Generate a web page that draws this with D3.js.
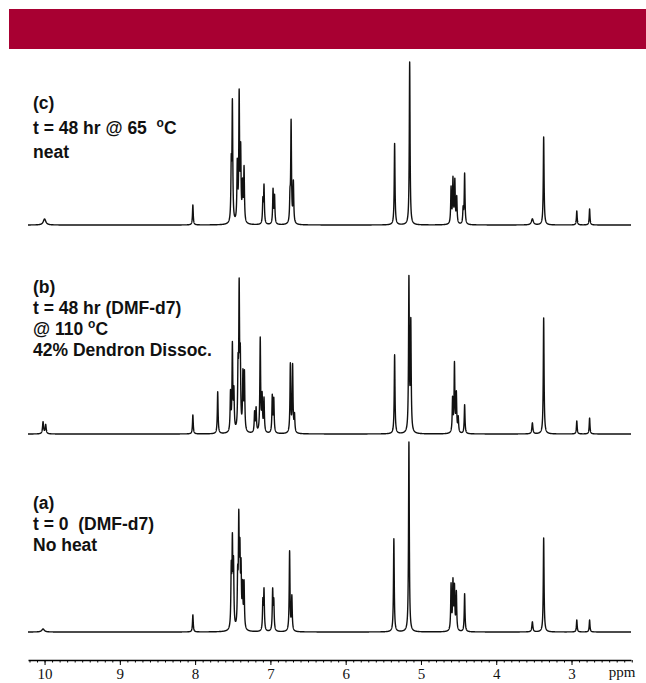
<!DOCTYPE html>
<html>
<head>
<meta charset="utf-8">
<script src="https://cdn.jsdelivr.net/npm/d3@7"></script>
<style>
  body { margin: 0; background: #fff; }
  svg { display: block; }
</style>
</head>
<body>
<svg id="chart"></svg>
<script>
// peak lists: [ppm, intensity (% of tallest), half-width ppm]
const peaksC = [
  [10.00, 3.7, 0.02], [8.03, 12.3, 0.006],
  [7.52, 33, 0.006], [7.505, 72, 0.006], [7.44, 35, 0.006], [7.415, 77, 0.006],
  [7.395, 42, 0.006], [7.37, 22, 0.006], [7.35, 33, 0.006],
  [7.10, 14, 0.006], [7.085, 23, 0.006], [6.965, 21, 0.006], [6.945, 17, 0.006],
  [6.74, 14, 0.006], [6.725, 62, 0.006], [6.695, 25, 0.006],
  [5.35, 50, 0.006], [5.15, 100, 0.006],
  [4.60, 22, 0.006], [4.575, 27, 0.006], [4.55, 26, 0.006], [4.525, 16, 0.006],
  [4.44, 9, 0.006], [4.42, 31, 0.006],
  [3.52, 3.7, 0.015], [3.37, 54, 0.006], [2.93, 8.6, 0.006], [2.76, 9.8, 0.006]
];
const peaksB = [
  [10.02, 7.5, 0.008], [9.985, 5.7, 0.008], [8.03, 12, 0.006], [7.70, 26.4, 0.006],
  [7.53, 24, 0.006], [7.505, 54, 0.006], [7.485, 24, 0.006],
  [7.43, 36, 0.006], [7.415, 86, 0.006], [7.40, 42, 0.006],
  [7.365, 35, 0.006], [7.345, 36, 0.006],
  [7.21, 12.6, 0.006], [7.19, 15, 0.006], [7.135, 59, 0.006], [7.11, 22, 0.006],
  [7.085, 21, 0.006], [6.975, 23, 0.006], [6.955, 21, 0.006],
  [6.735, 43, 0.006], [6.705, 42, 0.006], [6.68, 10.7, 0.006],
  [5.35, 49.7, 0.006], [5.16, 96, 0.006], [5.135, 68, 0.006],
  [4.58, 21, 0.006], [4.555, 43, 0.006], [4.53, 24, 0.006], [4.505, 9.4, 0.006],
  [4.42, 18.2, 0.006],
  [3.52, 6.9, 0.008], [3.37, 73, 0.006], [2.93, 8.2, 0.006], [2.76, 10, 0.006]
];
const peaksA = [
  [10.02, 1.6, 0.02], [8.03, 9, 0.006],
  [7.52, 30, 0.006], [7.505, 43, 0.006], [7.49, 32, 0.006],
  [7.435, 25, 0.006], [7.42, 54, 0.006], [7.405, 36, 0.006], [7.39, 29, 0.006],
  [7.37, 21, 0.006], [7.35, 24, 0.006],
  [7.10, 15, 0.006], [7.085, 21, 0.006], [6.97, 21, 0.006], [6.955, 15, 0.006],
  [6.745, 42, 0.006], [6.715, 17.9, 0.006],
  [5.36, 49, 0.006], [5.16, 100, 0.006],
  [4.60, 24, 0.006], [4.575, 25, 0.006], [4.555, 22, 0.006], [4.53, 20, 0.006],
  [4.42, 20, 0.006],
  [3.52, 5.3, 0.008], [3.37, 49.5, 0.006], [2.93, 6.3, 0.006], [2.76, 6.3, 0.006]
];

const labelsC = ["(c)", "t = 48 hr @ 65  |o|C", "neat"];
const labelsB = ["(b)", "t = 48 hr (DMF-d7)", "@ 110 |o|C", "42% Dendron Dissoc."];
const labelsA = ["(a)", "t = 0  (DMF-d7)", "No heat"];

const majorTicks = [10, 9, 8, 7, 6, 5, 4, 3];

const width = 646, height = 683;
const svg = d3.select("#chart").attr("width", width).attr("height", height);

// header band
svg.append("rect").attr("x", 9).attr("y", 9).attr("width", width - 9).attr("height", 40)
  .attr("fill", "#a80032");

const x = d3.scaleLinear().domain([10.22, 2.21]).range([28, 631]);

// grid in thousandths of ppm so peak centres are hit exactly
const grid = d3.range(2210, 10221).map(i => i / 1000);

const panels = [
  { peaks: peaksC, labels: labelsC, base: 225, top: 62, textY: [109, 134, 158] },
  { peaks: peaksB, labels: labelsB, base: 434, top: 275, textY: [293, 314, 335, 356] },
  { peaks: peaksA, labels: labelsA, base: 632, top: 442, textY: [509, 530, 551] }
];

panels.forEach(p => {
  const y = d3.scaleLinear().domain([0, 100]).range([p.base, p.top]);
  const pts = grid.map(v => {
    let s = 0;
    p.peaks.forEach(([c, h, w]) => {
      const d = (v - c) / w;
      s += h / (1 + d * d);
    });
    return [v, s];
  });
  const line = d3.line().x(d => x(d[0])).y(d => y(d[1]));
  svg.append("path").datum(pts)
    .attr("d", line)
    .attr("fill", "none")
    .attr("stroke", "#111")
    .attr("stroke-width", 1.4)
    .attr("stroke-linejoin", "round");

  p.labels.forEach((t, i) => {
    const txt = svg.append("text")
      .attr("x", 33).attr("y", p.textY[i])
      .attr("font-family", "Liberation Sans, Arial, sans-serif")
      .attr("font-weight", "bold")
      .attr("font-size", 17.5)
      .style("white-space", "pre")
      .attr("fill", "#111");
    const parts = t.split("|");
    parts.forEach((s, k) => {
      if (k === 1) {
        txt.append("tspan").attr("font-size", 12).attr("dy", -7).text(s);
      } else if (k === 2) {
        txt.append("tspan").attr("dy", 7).text(s);
      } else {
        txt.append("tspan").text(s);
      }
    });
  });
});

// ppm axis
const axisY = 660;
const minor = d3.range(22, 103).map(i => i / 10).filter(v => v <= 10.2);
svg.append("g").attr("transform", `translate(0,${axisY})`)
  .call(d3.axisBottom(x).tickValues(minor).tickSize(2.5).tickSizeOuter(0).tickFormat(""))
  .call(g => g.select(".domain").attr("stroke-width", 1.6));
const ax = svg.append("g").attr("transform", `translate(0,${axisY})`)
  .call(d3.axisBottom(x).tickValues(majorTicks).tickSize(5).tickSizeOuter(0).tickPadding(3));
ax.select(".domain").remove();
ax.selectAll("text")
  .attr("font-family", "Liberation Serif, Times New Roman, serif")
  .attr("font-size", 15)
  .attr("fill", "#111");

svg.append("text").attr("x", 622).attr("y", 677)
  .attr("text-anchor", "middle")
  .attr("font-family", "Liberation Serif, Times New Roman, serif")
  .attr("font-size", 15)
  .attr("fill", "#111")
  .text("ppm");
</script>
</body>
</html>
